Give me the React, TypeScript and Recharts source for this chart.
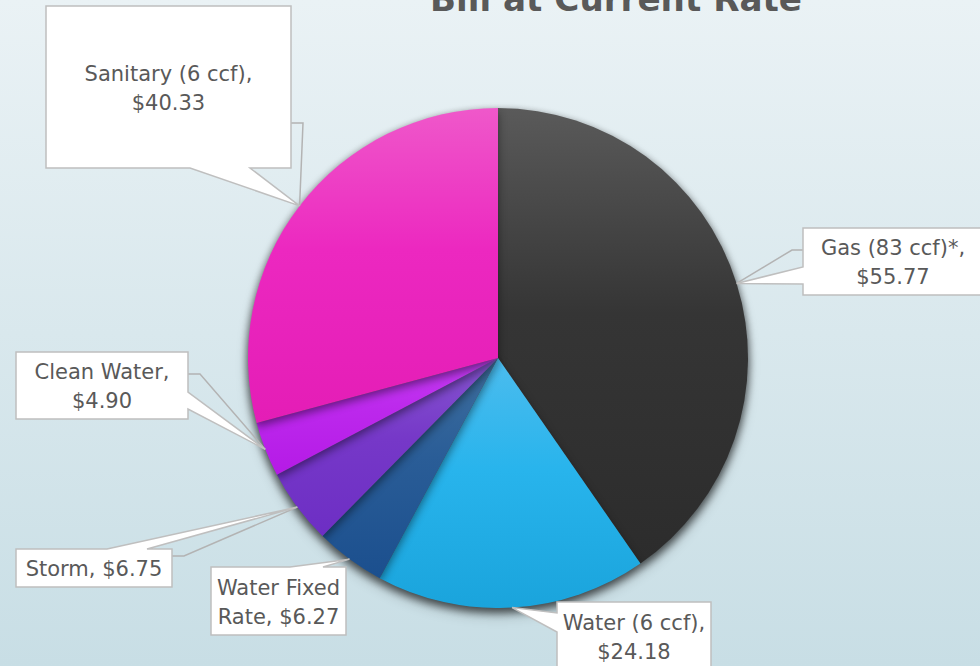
import React from 'react';
import { PieChart, Pie, Cell } from 'recharts';

const categories = ['Gas (83 ccf)*', 'Water (6 ccf)', 'Water Fixed Rate', 'Storm', 'Clean Water', 'Sanitary (6 ccf)'];
const amounts = [55.77, 24.18, 6.27, 6.75, 4.9, 40.33];
const title = 'Bill at Current Rate';

const data = categories.map((name, i) => ({ name, value: amounts[i] }));

// slice gradient stops (top -> bottom)
const gradients = [
  ['#5a5a5a', '#353535', '#2c2c2c'],
  ['#4cbcee', '#28b4ec', '#1aa4dc'],
  ['#3f6f9e', '#2a5d97', '#1b4f8e'],
  ['#8656d0', '#7638c8', '#6d2ec4'],
  ['#c43df2', '#bc28ec', '#b51ae6'],
  ['#ef58ca', '#ec28c0', '#e41db6'],
];

type Layout = {
  box: [number, number, number, number];
  side: 'left' | 'right' | 'top' | 'bottom';
  base: [number, number];
  leader: [number, number][] | null;
  breakBefore: string | null;
};

// callout placement (annotation layout)
const labelLayout: Layout[] = [
  { box: [803, 228, 180, 67], side: 'left', base: [39, 56], leader: [[803, 250], [792, 250]], breakBefore: '$' },
  { box: [557, 602, 154, 68], side: 'left', base: [11, 30], leader: null, breakBefore: '$' },
  { box: [211, 567, 135, 68], side: 'top', base: [79, 112], leader: null, breakBefore: 'Rate' },
  { box: [16, 549, 156, 38], side: 'top', base: [91, 131], leader: [[172, 556], [184, 556]], breakBefore: null },
  { box: [16, 352, 172, 67], side: 'right', base: [40, 57], leader: [[188, 374], [200, 374]], breakBefore: '$' },
  { box: [46, 6, 245, 162], side: 'bottom', base: [144, 204], leader: [[291, 123], [303, 123]], breakBefore: '$' },
];

const RAD = Math.PI / 180;
const FONT = '"DejaVu Sans", sans-serif';

function calloutPath(l: Layout, tx: number, ty: number) {
  const [x, y, w, h] = l.box;
  const [b1, b2] = l.base;
  const p: [number, number][] = [];
  p.push([x, y]);
  if (l.side === 'top') p.push([x + b1, y], [tx, ty], [x + b2, y]);
  p.push([x + w, y]);
  if (l.side === 'right') p.push([x + w, y + b1], [tx, ty], [x + w, y + b2]);
  p.push([x + w, y + h]);
  if (l.side === 'bottom') p.push([x + b2, y + h], [tx, ty], [x + b1, y + h]);
  p.push([x, y + h]);
  if (l.side === 'left') p.push([x, y + b2], [tx, ty], [x, y + b1]);
  return 'M' + p.map((q) => q[0] + ',' + q[1]).join('L') + 'Z';
}

const renderLabel = (props: any) => {
  const { cx, cy, midAngle, outerRadius, index, name, value } = props;
  const l = labelLayout[index];
  const ax = cx + outerRadius * Math.cos(-midAngle * RAD);
  const ay = cy + outerRadius * Math.sin(-midAngle * RAD);
  const full = `${name}, $${Number(value).toFixed(2)}`;
  let lines = [full];
  if (l.breakBefore) {
    const k = full.indexOf(l.breakBefore);
    lines = [full.slice(0, k).trim(), full.slice(k)];
  }
  const [bx, by, bw, bh] = l.box;
  const lh = 29;
  const centerY = by + bh / 2 + 8;
  const firstY = centerY - ((lines.length - 1) * lh) / 2;
  const leaderPts = l.leader ? [...l.leader, [ax, ay]] : null;
  return (
    <g key={'lbl' + index}>
      {leaderPts && (
        <polyline
          points={leaderPts.map((q) => q[0] + ',' + q[1]).join(' ')}
          fill="none"
          stroke="#b3b3b3"
          strokeWidth={1.5}
        />
      )}
      <path d={calloutPath(l, ax, ay)} fill="#ffffff" stroke="#bfbfbf" strokeWidth={1.5} strokeLinejoin="miter" />
      {lines.map((t, i) => (
        <text
          key={i}
          x={bx + bw / 2}
          y={firstY + i * lh}
          textAnchor="middle"
          fill="#595959"
          fontSize={21}
          fontFamily={FONT}
        >
          {t}
        </text>
      ))}
    </g>
  );
};

export default function App() {
  return (
    <div
      style={{
        position: 'absolute',
        left: 0,
        top: 0,
        width: 980,
        height: 666,
        overflow: 'hidden',
        background: 'linear-gradient(180deg, #eaf2f5 0%, #d9e8ed 50%, #c8dee5 100%)',
      }}
    >
      <style>{'.pie-shadow { filter: drop-shadow(0px 4px 4px rgba(0,0,0,0.45)); }'}</style>
      <PieChart
        width={980}
        height={666}
        margin={{ top: 0, right: 0, bottom: 0, left: 0 }}
        style={{ position: 'absolute', left: 0, top: 0 }}
      >
        <defs>
          {gradients.map((g, i) => (
            <linearGradient key={i} id={'sg' + i} x1="0" y1="0" x2="0" y2="1">
              <stop offset="0%" stopColor={g[0]} />
              <stop offset="45%" stopColor={g[1]} />
              <stop offset="100%" stopColor={g[2]} />
            </linearGradient>
          ))}
        </defs>
        <Pie
          data={data}
          dataKey="value"
          nameKey="name"
          cx={498}
          cy={358}
          outerRadius={250}
          startAngle={90}
          endAngle={-270}
          stroke="none"
          className="pie-shadow"
          label={false}
          labelLine={false}
          isAnimationActive={false}
        >
          {data.map((d, i) => (
            <Cell key={d.name} fill={`url(#sg${i})`} stroke="none" />
          ))}
        </Pie>
        <Pie
          data={data}
          dataKey="value"
          nameKey="name"
          cx={498}
          cy={358}
          outerRadius={250}
          startAngle={90}
          endAngle={-270}
          fill="none"
          stroke="none"
          label={renderLabel}
          labelLine={false}
          isAnimationActive={false}
        >
          {data.map((d) => (
            <Cell key={d.name} fill="none" stroke="none" />
          ))}
        </Pie>
      </PieChart>
      <svg width={980} height={666} style={{ position: 'absolute', left: 0, top: 0, pointerEvents: 'none' }}>
        <text
          x={616}
          y={11}
          textAnchor="middle"
          fill="#595959"
          fontSize={34}
          fontWeight="bold"
          fontFamily={FONT}
          textLength={372}
          lengthAdjust="spacingAndGlyphs"
        >
          {title}
        </text>
      </svg>
    </div>
  );
}
